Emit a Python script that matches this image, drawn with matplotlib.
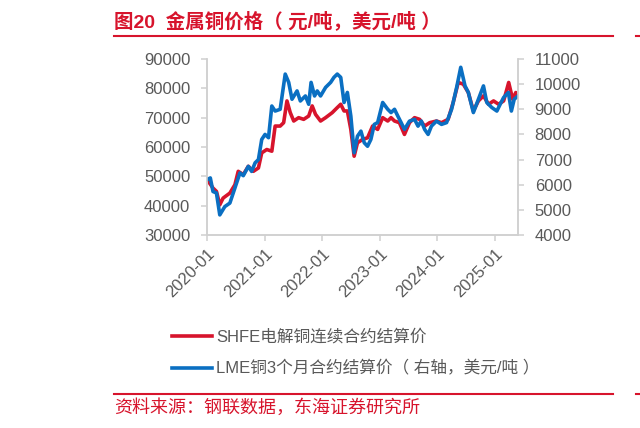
import matplotlib
matplotlib.use("Agg")
import matplotlib.pyplot as plt
from matplotlib.lines import Line2D
import pandas as pd

plt.rcParams["font.family"] = ["Liberation Sans", "Noto Sans CJK SC", "DejaVu Sans"]

# SHFE copper, yuan/t (left axis)
shfe_dates = [
    "2020-01-02", "2020-02-08", "2020-03-01", "2020-03-22", "2020-04-12", "2020-05-25",
    "2020-06-26", "2020-07-17", "2020-08-18", "2020-09-19", "2020-10-21", "2020-11-22",
    "2020-12-13", "2021-01-14", "2021-02-15", "2021-03-08", "2021-04-09", "2021-05-01",
    "2021-05-22", "2021-06-12", "2021-07-04", "2021-08-04", "2021-09-05", "2021-10-07",
    "2021-10-29", "2021-11-19", "2021-12-21", "2022-01-22", "2022-03-05", "2022-04-06",
    "2022-04-28", "2022-05-19", "2022-06-09", "2022-07-01", "2022-07-22", "2022-08-12",
    "2022-09-13", "2022-10-15", "2022-11-16", "2022-12-18", "2023-01-19", "2023-02-20",
    "2023-03-13", "2023-04-04", "2023-05-05", "2023-06-06", "2023-07-08", "2023-08-09",
    "2023-09-10", "2023-10-12", "2023-11-13", "2023-12-26", "2024-01-27", "2024-03-09",
    "2024-04-10", "2024-05-12", "2024-06-13", "2024-07-15", "2024-08-16", "2024-09-17",
    "2024-10-19", "2024-11-20", "2024-12-22", "2025-01-23", "2025-02-24", "2025-03-28",
    "2025-04-22", "2025-05-12", "2025-05-26",
]
shfe_values = [
    48860, 46000, 44860, 40290, 42570, 44290,
    47140, 51710, 50570, 53430, 51710, 52860,
    58000, 59140, 58570, 67140, 67140, 68290,
    75710, 71710, 68860, 70000, 69430, 70570,
    74000, 71140, 68860, 70000, 71710, 73430,
    74570, 72290, 72290, 66000, 56860, 61430,
    62570, 63140, 67140, 66000, 70000, 68860,
    70000, 68860, 68290, 64290, 68290, 70000,
    69430, 67140, 68290, 68860, 68290, 69430,
    75140, 82000, 81430, 78570, 72290, 75710,
    77430, 74570, 75710, 74570, 75710, 82000,
    76290, 78570, 78000,
]

# LME copper 3M, USD/t (right axis)
lme_dates = [
    "2020-01-02", "2020-01-22", "2020-02-08", "2020-03-01", "2020-03-22", "2020-04-23",
    "2020-05-25", "2020-06-26", "2020-07-28", "2020-08-18", "2020-09-19", "2020-10-10",
    "2020-11-01", "2020-11-22", "2020-12-13", "2021-01-03", "2021-01-25", "2021-02-15",
    "2021-03-08", "2021-04-09", "2021-05-11", "2021-06-02", "2021-06-23", "2021-07-25",
    "2021-08-15", "2021-09-16", "2021-10-07", "2021-10-22", "2021-11-13", "2021-11-30",
    "2021-12-21", "2022-01-22", "2022-02-23", "2022-03-16", "2022-04-06", "2022-04-28",
    "2022-05-19", "2022-06-09", "2022-07-01", "2022-07-22", "2022-08-12", "2022-09-03",
    "2022-09-24", "2022-10-15", "2022-11-05", "2022-11-27", "2022-12-18", "2023-01-19",
    "2023-02-20", "2023-03-13", "2023-04-04", "2023-04-25", "2023-05-16", "2023-06-06",
    "2023-07-08", "2023-08-09", "2023-08-31", "2023-09-21", "2023-10-12", "2023-11-03",
    "2023-11-24", "2023-12-26", "2024-01-27", "2024-02-28", "2024-03-31", "2024-05-02",
    "2024-05-28", "2024-06-24", "2024-07-15", "2024-08-16", "2024-09-17", "2024-10-19",
    "2024-11-09", "2024-12-11", "2025-01-12", "2025-02-02", "2025-02-24", "2025-03-26",
    "2025-04-14", "2025-05-02", "2025-05-26",
]
lme_values = [
    6200, 6270, 5730, 5670, 4800, 5130,
    5270, 5870, 6470, 6360, 6730, 6530,
    6870, 7000, 7800, 8000, 7870, 9130,
    8930, 9000, 10400, 10070, 9400, 9730,
    9330, 9530, 9200, 10070, 9530, 9730,
    9530, 9870, 10070, 10270, 10400, 10270,
    9270, 9670, 8730, 7270, 7930, 8130,
    7670, 7530, 7800, 8400, 8470, 9270,
    9000, 8870, 9000, 8730, 8470, 8200,
    8530, 8600, 8330, 8530, 8200, 8000,
    8330, 8530, 8400, 8470, 9000, 9870,
    10670, 9930, 9670, 8870, 9400, 9930,
    9270, 9070, 8930, 9200, 9470, 9670,
    8930, 9400, 9530,
]

tick_labels = ["2020-01", "2021-01", "2022-01", "2023-01", "2024-01", "2025-01"]

RED = "#d7142c"
BLUE = "#0a6fc2"
GRAY = "#595959"
SPINE = "#d0d0d0"

fig = plt.figure(figsize=(6.4, 4.28), dpi=100)
ax = fig.add_axes([207 / 640, 1 - 235 / 428, (518 - 207) / 640, (235 - 59) / 428])
ax2 = ax.twinx()

l1, = ax.plot(pd.to_datetime(shfe_dates), shfe_values, color=RED, lw=2.6,
              label="SHFE电解铜连续合约结算价")
l2, = ax2.plot(pd.to_datetime(lme_dates), lme_values, color=BLUE, lw=2.6,
               label="LME铜3个月合约结算价（ 右轴，美元/吨 ）")

ax.set_ylim(30000, 90000)
ax.set_yticks(range(30000, 90001, 10000))
ax2.set_ylim(4000, 11000)
ax2.set_yticks(range(4000, 11001, 1000))
ax.set_xlim(pd.Timestamp("2020-01-01"), pd.Timestamp("2025-05-26"))
ax.set_xticks(pd.to_datetime([t + "-01" for t in tick_labels]))
ax.set_xticklabels(tick_labels, rotation=45, ha="right", rotation_mode="anchor")

for a in (ax, ax2):
    a.spines["top"].set_visible(False)
    for s in ("left", "right", "bottom"):
        a.spines[s].set_color(SPINE)
        a.spines[s].set_linewidth(1.1)
    a.tick_params(colors=SPINE, labelcolor=GRAY, labelsize=12, length=4, width=1.1)
ax.tick_params(axis="y", pad=8)
ax2.tick_params(axis="y", pad=8)
ax.tick_params(axis="x", pad=4)

fig.legend(handles=[l1, l2], loc="upper left", bbox_to_anchor=(172 / 640, 1 - 329 / 428),
           frameon=False, fontsize=12, labelcolor=GRAY, handlelength=2.4,
           handletextpad=0.25, labelspacing=0.95, borderpad=0, borderaxespad=0)

# title and footer
fig.text(114 / 640, 1 - 21 / 428, "图20  金属铜价格（ 元/吨，美元/吨 ）", color=RED,
         fontsize=14, fontweight="bold", va="center", ha="left")
fig.add_artist(Line2D([114 / 640, 613 / 640], [1 - 36 / 428] * 2, color=RED, lw=1.5))
fig.add_artist(Line2D([636 / 640, 1.0], [1 - 36 / 428] * 2, color=RED, lw=1.5))

fig.add_artist(Line2D([114 / 640, 613 / 640], [1 - 394 / 428] * 2, color=RED, lw=1.5))
fig.text(114 / 640, 1 - 408 / 428, "资料来源：钢联数据，东海证券研究所", color=RED,
         fontsize=13, va="center", ha="left")
fig.add_artist(Line2D([636 / 640, 1.0], [1 - 394 / 428] * 2, color=RED, lw=1.5))

fig.savefig("out.png", dpi=100)
